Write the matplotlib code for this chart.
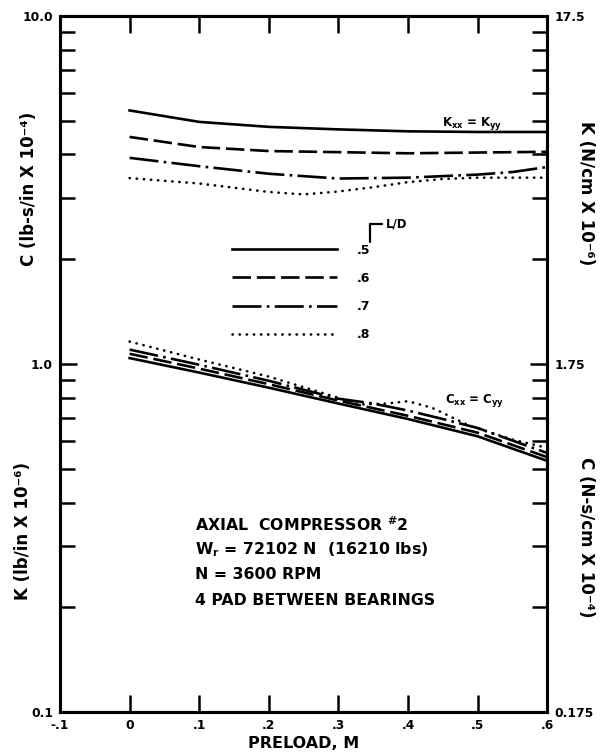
import matplotlib
matplotlib.use("Agg")
import matplotlib.pyplot as plt

plt.rcParams['font.family'] = ['DejaVu Sans']
plt.rcParams['font.weight'] = 'bold'
plt.rcParams['mathtext.default'] = 'bf'

# ---- data ----
x_k05 = [0, 0.1, 0.2, 0.3, 0.4, 0.5, 0.6]
K_05 = [5.35, 4.96, 4.80, 4.72, 4.66, 4.64, 4.64]
x_k06 = [0, 0.1, 0.2, 0.3, 0.4, 0.5, 0.6]
K_06 = [4.49, 4.20, 4.09, 4.06, 4.03, 4.05, 4.07]
x_k07 = [0, 0.1, 0.2, 0.3, 0.4, 0.5, 0.55, 0.6]
K_07 = [3.91, 3.70, 3.52, 3.41, 3.43, 3.50, 3.56, 3.68]
x_k08 = [0, 0.1, 0.2, 0.25, 0.3, 0.35, 0.4, 0.45, 0.5, 0.6]
K_08 = [3.42, 3.30, 3.12, 3.07, 3.13, 3.22, 3.33, 3.40, 3.43, 3.43]

x_c05 = [0, 0.1, 0.2, 0.3, 0.4, 0.5, 0.6]
C_05 = [1.04, 0.945, 0.855, 0.77, 0.695, 0.62, 0.527]
x_c06 = [0, 0.1, 0.2, 0.3, 0.4, 0.5, 0.6]
C_06 = [1.07, 0.97, 0.875, 0.785, 0.71, 0.635, 0.54]
x_c07 = [0, 0.1, 0.2, 0.3, 0.35, 0.4, 0.45, 0.5, 0.6]
C_07 = [1.10, 0.995, 0.895, 0.795, 0.77, 0.735, 0.695, 0.655, 0.555]
x_c08 = [0, 0.1, 0.2, 0.3, 0.33, 0.37, 0.4, 0.435, 0.465, 0.49, 0.52, 0.55, 0.6]
C_08 = [1.16, 1.03, 0.92, 0.80, 0.765, 0.77, 0.782, 0.748, 0.70, 0.663, 0.634, 0.607, 0.574]

ld_labels = ['.5', '.6', '.7', '.8']
x_ticks = [-0.1, 0, 0.1, 0.2, 0.3, 0.4, 0.5, 0.6]
x_ticklabels = ['-.1', '0', '.1', '.2', '.3', '.4', '.5', '.6']
y_ticks = [0.1, 1.0, 10.0]
y_ticklabels_left = ['0.1', '1.0', '10.0']
y_ticklabels_right = ['0.175', '1.75', '17.5']

info_lines = ['AXIAL  COMPRESSOR $^{\\#}$2',
              'W$_{r}$ = 72102 N  (16210 lbs)',
              'N = 3600 RPM',
              '4 PAD BETWEEN BEARINGS']

# ---- figure ----
fig = plt.figure(figsize=(6.0, 7.56), dpi=100)
ax = fig.add_axes([0.100, 0.058, 0.812, 0.921])
ax.set_yscale('log')
ax.set_xlim(-0.1, 0.6)
ax.set_ylim(0.1, 10.0)

lw = 1.9
styles = [
    dict(linestyle='-'),
    dict(linestyle=(0, (7, 2.2))),
    dict(linestyle=(0, (11, 2, 1.0, 2))),
    dict(linestyle=(0, (0.1, 2.6)), dash_capstyle='round'),
]

k_series = [(x_k05, K_05), (x_k06, K_06), (x_k07, K_07), (x_k08, K_08)]
c_series = [(x_c05, C_05), (x_c06, C_06), (x_c07, C_07), (x_c08, C_08)]

handles = []
for (xs, ys), st in zip(k_series, styles):
    h, = ax.plot(xs, ys, color='black', lw=lw, **st)
    handles.append(h)
for (xs, ys), st in zip(c_series, styles):
    ax.plot(xs, ys, color='black', lw=lw, **st)

# spines & ticks
for sp in ax.spines.values():
    sp.set_linewidth(2.2)

ax.set_xticks(x_ticks)
ax.set_xticklabels(x_ticklabels)
ax.set_yticks(y_ticks)
ax.set_yticklabels(y_ticklabels_left)
ax.tick_params(axis='both', which='major', direction='in', length=12, width=1.8,
               labelsize=8.8, pad=5)
ax.tick_params(axis='y', which='minor', direction='in', length=11, width=1.8)
ax.tick_params(axis='x', top=True)
ax.tick_params(axis='y', which='both', right=False)
for lab in ax.get_xticklabels() + ax.get_yticklabels():
    lab.set_fontweight('bold')

ax2 = ax.twinx()
ax2.set_yscale('log')
ax2.set_ylim(ax.get_ylim())
ax2.set_yticks(y_ticks)
ax2.set_yticklabels(y_ticklabels_right)
ax2.tick_params(axis='y', which='major', direction='in', length=12, width=1.8,
                labelsize=8.8, pad=5)
ax2.tick_params(axis='y', which='minor', direction='in', length=11, width=1.8)
for lab in ax2.get_yticklabels():
    lab.set_fontweight('bold')
for sp in ax2.spines.values():
    sp.set_linewidth(2.2)

# axis labels
ax.set_xlabel('PRELOAD, M', fontsize=11.5, fontweight='bold', labelpad=3)
fig.text(0.048, 0.750, 'C (lb-s/in X 10⁻⁴)', rotation=90, ha='center', va='center',
         fontsize=12, fontweight='bold')
fig.text(0.038, 0.298, 'K (lb/in X 10⁻⁶)', rotation=90, ha='center', va='center',
         fontsize=12, fontweight='bold')
fig.text(0.976, 0.745, 'K (N/cm X 10⁻⁶)', rotation=-90, ha='center', va='center',
         fontsize=12, fontweight='bold')
fig.text(0.976, 0.290, 'C (N-s/cm X 10⁻⁴)', rotation=-90, ha='center', va='center',
         fontsize=12, fontweight='bold')

# curve labels
ax.text(0.449, 4.92, 'K$_{xx}$ = K$_{yy}$', fontsize=8.5, fontweight='bold',
        ha='left', va='center')
ax.text(0.453, 0.785, 'C$_{xx}$ = C$_{yy}$', fontsize=8.5, fontweight='bold',
        ha='left', va='center')

# legend
leg = ax.legend(handles, ld_labels, loc='upper left', bbox_to_anchor=(0.353, 0.673),
                frameon=False, handlelength=8.4, handletextpad=1.6,
                labelspacing=1.22, borderpad=0, borderaxespad=0,
                prop=dict(weight='bold', size=9))
ax.annotate('L/D', xy=(0.345, 2.24), xytext=(0.368, 2.53), fontsize=8.5,
            fontweight='bold', ha='left', va='center',
            arrowprops=dict(arrowstyle='-', lw=1.6, color='black',
                            connectionstyle='angle,angleA=0,angleB=90,rad=0',
                            shrinkA=1, shrinkB=0))

# info block
for i, line in enumerate(info_lines):
    ax.text(0.277, 0.269 - i * 0.036, line, transform=ax.transAxes,
            fontsize=11.3, fontweight='bold', ha='left', va='center')

fig.savefig('out.png', dpi=100)
